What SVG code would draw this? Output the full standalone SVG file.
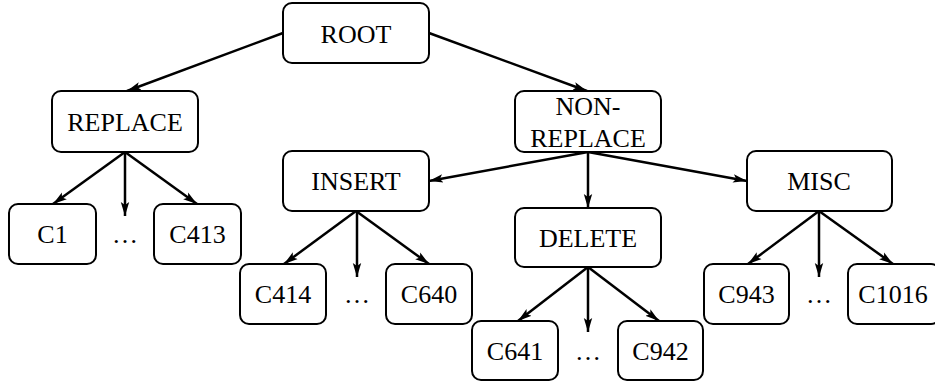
<svg xmlns="http://www.w3.org/2000/svg" width="935" height="381" viewBox="0 0 935 381">
<style>
.box{fill:#fff;stroke:#000;stroke-width:2}
.t{font-family:"Liberation Serif","Times New Roman",serif;font-size:26px;text-anchor:middle;fill:#000}
.e{stroke:#000;stroke-width:2.5;fill:none;marker-end:url(#ah)}
</style>
<defs>
<marker id="ah" markerUnits="userSpaceOnUse" markerWidth="16" markerHeight="12" refX="14" refY="5" orient="auto" viewBox="0 0 16 10">
<path d="M0,0.8 L14,5 L0,9.2 L3,5 z" fill="#000"/>
</marker>
</defs>
<rect width="935" height="381" fill="#fff"/>
<g id="connectors">
<line class="e" x1="283" y1="33" x2="127" y2="91"/>
<line class="e" x1="429" y1="33" x2="587" y2="91"/>
<line class="e" x1="125" y1="152" x2="53" y2="204"/>
<line class="e" x1="125" y1="152" x2="125" y2="216"/>
<line class="e" x1="125" y1="152" x2="197" y2="204"/>
<line class="e" x1="588" y1="152" x2="429" y2="181"/>
<line class="e" x1="588" y1="152" x2="588" y2="208"/>
<line class="e" x1="588" y1="152" x2="747" y2="181"/>
<line class="e" x1="356" y1="211" x2="284" y2="264"/>
<line class="e" x1="357" y1="211" x2="357" y2="277"/>
<line class="e" x1="356" y1="211" x2="429" y2="264"/>
<line class="e" x1="588" y1="267" x2="518" y2="321"/>
<line class="e" x1="588" y1="267" x2="588" y2="332"/>
<line class="e" x1="588" y1="267" x2="659" y2="321"/>
<line class="e" x1="819" y1="211" x2="748" y2="264"/>
<line class="e" x1="819" y1="211" x2="819" y2="277"/>
<line class="e" x1="819" y1="211" x2="893" y2="264"/>
</g>
<g id="root"><rect class="box" x="283" y="3" width="146" height="60" rx="9"/><text class="t" x="356" y="43">ROOT</text></g>
<g id="replace"><rect class="box" x="52" y="91" width="146" height="61" rx="9"/><text class="t" x="125" y="131">REPLACE</text></g>
<g id="nonreplace"><rect class="box" x="515" y="91" width="146" height="61" rx="9"/><text class="t" x="588" y="115">NON-</text><text class="t" x="588" y="147">REPLACE</text></g>
<g id="insert"><rect class="box" x="283" y="151" width="146" height="60" rx="9"/><text class="t" x="356" y="190">INSERT</text></g>
<g id="delete"><rect class="box" x="515" y="208" width="146" height="59" rx="9"/><text class="t" x="588" y="247">DELETE</text></g>
<g id="misc"><rect class="box" x="747" y="151" width="145" height="60" rx="9"/><text class="t" x="819" y="190">MISC</text></g>
<g id="c1"><rect class="box" x="9" y="204" width="87" height="60" rx="9"/><text class="t" x="52.5" y="243">C1</text></g>
<g id="dots1"><text class="t" x="125" y="243">…</text></g>
<g id="c413"><rect class="box" x="154" y="204" width="87" height="60" rx="9"/><text class="t" x="197.5" y="243">C413</text></g>
<g id="c414"><rect class="box" x="240" y="264" width="86" height="60" rx="9"/><text class="t" x="283" y="303">C414</text></g>
<g id="dots2"><text class="t" x="357" y="303">…</text></g>
<g id="c640"><rect class="box" x="386" y="264" width="86" height="60" rx="9"/><text class="t" x="429" y="303">C640</text></g>
<g id="c641"><rect class="box" x="472" y="321" width="86" height="59" rx="9"/><text class="t" x="515" y="360">C641</text></g>
<g id="dots3"><text class="t" x="588" y="360">…</text></g>
<g id="c942"><rect class="box" x="618" y="321" width="85" height="59" rx="9"/><text class="t" x="660.5" y="360">C942</text></g>
<g id="c943"><rect class="box" x="704" y="264" width="85" height="60" rx="9"/><text class="t" x="746.5" y="303">C943</text></g>
<g id="dots4"><text class="t" x="819" y="303">…</text></g>
<g id="c1016"><rect class="box" x="848" y="264" width="92" height="60" rx="9"/><text class="t" x="893" y="303">C1016</text></g>
</svg>
